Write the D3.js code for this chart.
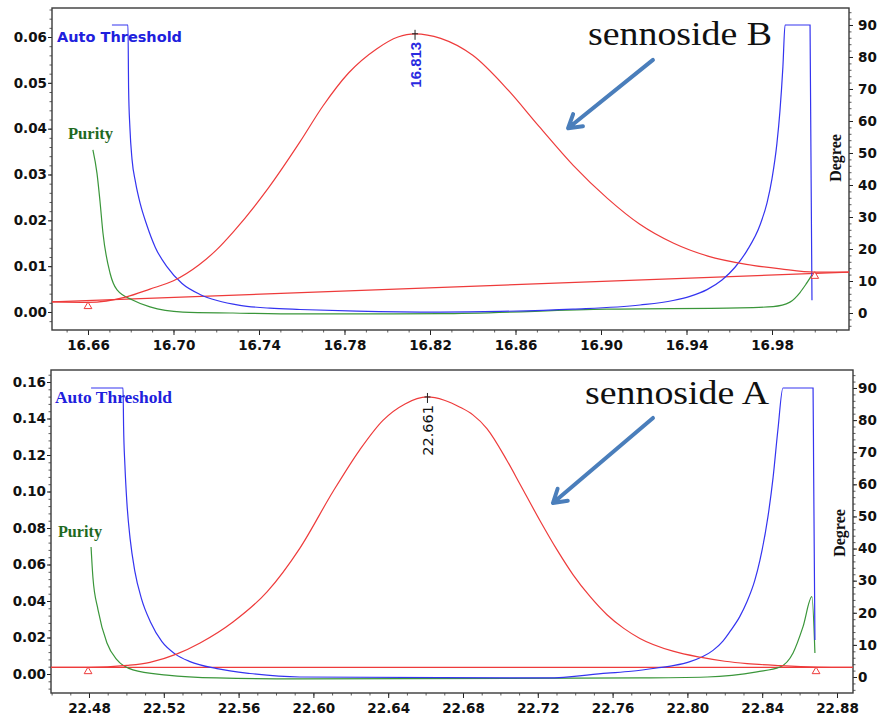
<!DOCTYPE html>
<html><head><meta charset="utf-8">
<script src="https://cdn.jsdelivr.net/npm/d3@7"></script>
<style>body{margin:0;background:#fff}svg{display:block}</style>
</head><body>
<svg id="chart" width="881" height="720"></svg>
<script>
// ===== Sennoside B (top panel) =====
const bChromTime = [16.6432,16.660,16.678,16.689,16.700,16.712,16.720,16.728,16.744,16.759,16.770,16.782,16.795,16.805,16.813,16.825,16.840,16.856,16.871,16.887,16.903,16.918,16.934,16.950,16.968,16.984,17.000,17.016];
const bChromAU   = [0.0022,0.0021,0.0033,0.0050,0.0068,0.0103,0.0135,0.0175,0.0268,0.0370,0.0450,0.0522,0.0574,0.0600,0.0607,0.0597,0.0560,0.0487,0.0405,0.0320,0.0248,0.0192,0.0150,0.0122,0.0104,0.0094,0.0087,0.0087];
const bBaseTime  = [16.6432,17.016];
const bBaseAU    = [0.0022,0.0087];
const bMarkTime  = [16.660,17.000];
const bMarkAU    = [0.0021,0.0087];
const bThrTime   = [16.6712,16.6787,16.6790,16.6796,16.6806,16.6822,16.6845,16.6875,16.6915,16.6970,16.7040,16.7124,16.7204,16.7311,16.7451,16.7592,16.7858,16.8247,16.8528,16.8869,16.9183,16.9337,16.9416,16.9496,16.9566,16.9627,16.9683,16.9744,16.9777,16.9800,16.9823,16.9837,16.9851,16.9861,16.9978,16.9987];
const bThrDeg    = [90,90,70,58,48,41,34,27.5,20.5,14.4,9.2,5.8,3.9,2.4,1.5,1.1,0.6,0.3,0.5,1.2,2.5,3.9,5.2,7.3,10.3,14.3,19.5,27.5,34.5,42,53,63,77,90,90,4];
const bPurTime   = [16.6623,16.6642,16.6656,16.6670,16.6703,16.6736,16.6811,16.6890,16.7044,16.7278,16.7592,16.8247,16.9028,16.9650,16.9805,16.9884,16.9931,16.9959,16.9987];
const bPurDeg    = [51,43.7,35,25,12.5,7.2,4,1.9,0.3,0,-0.3,-0.2,1.2,1.6,2,3.4,6.4,9,11.9];
const bPeakTime  = 16.813, bPeakAU = 0.0607, bPeakLabel = "16.813";
const bXTicks    = [16.66,16.70,16.74,16.78,16.82,16.86,16.90,16.94,16.98];
const bXLabels   = ["16.66","16.70","16.74","16.78","16.82","16.86","16.90","16.94","16.98"];
const bAUTicks   = [0,0.01,0.02,0.03,0.04,0.05,0.06];
const bAULabels  = ["0.00","0.01","0.02","0.03","0.04","0.05","0.06"];

// ===== Sennoside A (bottom panel) =====
const aChromTime = [22.4597,22.4795,22.5003,22.5126,22.5271,22.5394,22.5570,22.5752,22.5928,22.6105,22.6249,22.6372,22.6490,22.6607,22.6700,22.6784,22.6853,22.6928,22.7035,22.7105,22.7212,22.7303,22.7388,22.7479,22.7570,22.7660,22.7746,22.7923,22.8067,22.8200,22.8319,22.8495,22.8688,22.8886];
const aChromAU   = [0.0036,0.0036,0.0047,0.0064,0.0110,0.0170,0.0285,0.0450,0.0690,0.1000,0.1230,0.1390,0.1480,0.1518,0.1500,0.1462,0.1420,0.1345,0.1170,0.1040,0.0840,0.0680,0.0545,0.0425,0.0325,0.0250,0.0195,0.0125,0.0092,0.0070,0.0057,0.0046,0.0038,0.0036];
const aBaseTime  = [22.4597,22.8886];
const aBaseAU    = [0.0036,0.0036];
const aMarkTime  = [22.4795,22.8688];
const aMarkAU    = [0.0036,0.0036];
const aThrTime   = [22.4811,22.4982,22.4985,22.4992,22.5003,22.5020,22.5045,22.5080,22.5130,22.5190,22.5260,22.5340,22.5484,22.5661,22.5928,22.7249,22.7570,22.7700,22.7837,22.7930,22.8014,22.8080,22.8137,22.8190,22.8228,22.8280,22.8319,22.8360,22.8388,22.8431,22.8458,22.8484,22.8511,22.8672,22.8675,22.8682];
const aThrDeg    = [90,90,78,66,54,43,33,24.5,17,11,7.2,4.8,2.6,1.1,0,-0.3,1.2,1.8,2.8,3.6,4.8,6.3,8.3,11.2,14.2,18.8,23.5,30,36.4,50,62,77,90,90,65,11.5];
const aPurTime   = [22.4811,22.4821,22.4848,22.4896,22.4950,22.5035,22.5217,22.5484,22.5928,22.7746,22.8105,22.8372,22.8495,22.8565,22.8618,22.8666,22.8682];
const aPurDeg    = [40.5,31,21,10.6,5.3,2.2,0.6,-0.3,-0.6,-0.3,0,1.6,3.1,7.5,15.6,25,7.5];
const aPeakTime  = 22.661, aPeakAU = 0.1518, aPeakLabel = "22.661";
const aXTicks    = [22.48,22.52,22.56,22.60,22.64,22.68,22.72,22.76,22.80,22.84,22.88];
const aXLabels   = ["22.48","22.52","22.56","22.60","22.64","22.68","22.72","22.76","22.80","22.84","22.88"];
const aAUTicks   = [0,0.02,0.04,0.06,0.08,0.10,0.12,0.14,0.16];
const aAULabels  = ["0.00","0.02","0.04","0.06","0.08","0.10","0.12","0.14","0.16"];

// ===== shared =====
const degTicks  = [0,10,20,30,40,50,60,70,80,90];
const degLabels = ["0","10","20","30","40","50","60","70","80","90"];
const thresholdName = "Auto Threshold", purityName = "Purity", degreeName = "Degree";

const svg = d3.select("#chart");
const defs = svg.append("defs");
const RED = "#ee3b3b", BLUE = "#3434f0", GREEN = "#3a963a";
const TICKFONT = "'DejaVu Sans', Verdana, sans-serif";

function drawPanel(p) {
  const x  = d3.scaleLinear().domain(p.xDomain).range([p.left, p.right]);
  const yL = d3.scaleLinear().domain(p.auDomain).range([p.bottom, p.top]);
  const yR = d3.scaleLinear().domain(p.degDomain).range([p.bottom, p.top]);
  const g = svg.append("g");

  defs.append("clipPath").attr("id", "clip" + p.id).append("rect")
    .attr("x", p.left).attr("y", p.top).attr("width", p.right - p.left).attr("height", p.bottom - p.top);

  // minor ticks
  const minor = (axis, vals, tr) => {
    const m = g.append("g").attr("transform", tr)
      .call(axis.tickValues(vals).tickSize(2.5).tickSizeOuter(0).tickFormat(""));
    m.select(".domain").remove();
    m.selectAll("line").attr("stroke", "#333").attr("stroke-width", 0.8);
  };
  minor(d3.axisBottom(x), d3.range(p.xMinor[0], p.xMinor[1] + 1e-9, p.xMinor[2]), `translate(0,${p.bottom})`);
  minor(d3.axisLeft(yL), d3.range(p.auMinor[0], p.auMinor[1] + 1e-9, p.auMinor[2]), `translate(${p.left},0)`);
  minor(d3.axisRight(yR), d3.range(-4, 95.1, 2), `translate(${p.right},0)`);

  const styleAxis = (sel) => {
    sel.select(".domain").remove();
    sel.selectAll("line").attr("stroke", "#222").attr("stroke-width", 1);
    sel.selectAll("text").attr("fill", "#111").attr("font-family", TICKFONT)
      .attr("font-weight", "bold").attr("font-size", "13.5px");
  };
  g.append("g").attr("transform", `translate(0,${p.bottom})`)
    .call(d3.axisBottom(x).tickValues(p.xTicks).tickFormat((d, i) => p.xLabels[i]).tickSize(5).tickSizeOuter(0).tickPadding(5))
    .call(styleAxis);
  g.append("g").attr("transform", `translate(${p.left},0)`)
    .call(d3.axisLeft(yL).tickValues(p.auTicks).tickFormat((d, i) => p.auLabels[i]).tickSize(4).tickSizeOuter(0).tickPadding(1))
    .call(styleAxis);
  g.append("g").attr("transform", `translate(${p.right},0)`)
    .call(d3.axisRight(yR).tickValues(degTicks).tickFormat((d, i) => degLabels[i]).tickSize(4).tickSizeOuter(0).tickPadding(p.rightPad))
    .call(styleAxis);

  // frame
  g.append("rect").attr("x", p.left).attr("y", p.top)
    .attr("width", p.right - p.left).attr("height", p.bottom - p.top)
    .attr("fill", "none").attr("stroke", "#3a3a3a").attr("stroke-width", 1.4);

  const plot = g.append("g").attr("clip-path", `url(#clip${p.id})`);
  const lineAU  = d3.line().x(d => x(d[0])).y(d => yL(d[1])).curve(d3.curveMonotoneX);
  const lineDeg = d3.line().x(d => x(d[0])).y(d => yR(d[1])).curve(d3.curveMonotoneX);

  plot.append("path").datum(d3.zip(p.baseTime, p.baseAU)).attr("d", d3.line().x(d => x(d[0])).y(d => yL(d[1])))
    .attr("fill", "none").attr("stroke", RED).attr("stroke-width", 1.3);
  plot.append("path").datum(d3.zip(p.purTime, p.purDeg)).attr("d", lineDeg)
    .attr("fill", "none").attr("stroke", GREEN).attr("stroke-width", 1.2);
  plot.append("path").datum(d3.zip(p.thrTime, p.thrDeg)).attr("d", lineDeg)
    .attr("fill", "none").attr("stroke", BLUE).attr("stroke-width", 1.2);
  plot.append("path").datum(d3.zip(p.chromTime, p.chromAU)).attr("d", lineAU)
    .attr("fill", "none").attr("stroke", RED).attr("stroke-width", 1.2);

  // start / end markers
  plot.selectAll(".mark").data(d3.zip(p.markTime, p.markAU)).join("path")
    .attr("transform", d => `translate(${x(d[0])},${yL(d[1]) + 4})`)
    .attr("d", d3.symbol(d3.symbolTriangle, 26))
    .attr("fill", "#fff").attr("stroke", RED).attr("stroke-width", 1);

  // peak apex marker and label
  const px = x(p.peakTime), py = yL(p.peakAU);
  g.append("line").attr("x1", px).attr("x2", px).attr("y1", py - 4).attr("y2", py + 6).attr("stroke", "#222").attr("stroke-width", 1);
  g.append("line").attr("x1", px - 3).attr("x2", px + 3).attr("y1", py).attr("y2", py).attr("stroke", "#222").attr("stroke-width", 1);
  g.append("text").attr("transform", `translate(${px + p.peakDx},${py + 8}) rotate(-90)`)
    .attr("text-anchor", "end").attr("fill", p.peakColor)
    .attr("font-family", p.peakFont).attr("font-weight", p.peakWeight).attr("font-size", p.peakSize)
    .text(p.peakLabel);

  // series labels
  g.append("text").attr("x", p.left + p.thrLab[0]).attr("y", p.top + p.thrLab[1])
    .attr("fill", "#2020dd").attr("font-family", p.thrFont).attr("font-weight", "bold")
    .attr("font-size", p.thrSize).attr("textLength", p.thrLen).attr("lengthAdjust", "spacingAndGlyphs")
    .text(thresholdName);
  g.append("text").attr("x", p.left + p.purLab[0]).attr("y", p.top + p.purLab[1])
    .attr("fill", "#1f6a1f").attr("font-family", "'Liberation Serif', 'DejaVu Serif', serif").attr("font-weight", "bold")
    .attr("font-size", "16.5px").attr("textLength", p.purLen).attr("lengthAdjust", "spacingAndGlyphs")
    .text(purityName);
  // Degree label
  g.append("text").attr("transform", `translate(${p.right - 8},${p.degY}) rotate(-90)`)
    .attr("text-anchor", "middle").attr("fill", "#111")
    .attr("font-family", "'Liberation Serif', serif").attr("font-weight", "bold").attr("font-size", "16px")
    .text(degreeName);

  // compound name
  g.append("text").attr("x", p.nameX).attr("y", p.top + p.nameDy)
    .attr("fill", "#111").attr("font-family", "'Liberation Serif', 'Times New Roman', serif")
    .attr("font-size", "33px").attr("textLength", 184).attr("lengthAdjust", "spacingAndGlyphs")
    .text(p.name);

  // arrow (tail/tip given in data coordinates)
  const tx = x(p.arrow[0]), ty = yL(p.arrow[1]), hx = x(p.arrow[2]), hy = yL(p.arrow[3]);
  const ang = Math.atan2(ty - hy, tx - hx), L = 15, spread = 0.55;
  const b1 = [hx + L * Math.cos(ang - spread), hy + L * Math.sin(ang - spread)];
  const b2 = [hx + L * Math.cos(ang + spread), hy + L * Math.sin(ang + spread)];
  g.append("path").attr("d", `M${tx},${ty}L${hx},${hy}M${b1[0]},${b1[1]}L${hx},${hy}L${b2[0]},${b2[1]}`)
    .attr("fill", "none").attr("stroke", "#4a7ebb").attr("stroke-width", 4)
    .attr("stroke-linecap", "round").attr("stroke-linejoin", "round");
}

drawPanel({
  id: "B", left: 52, right: 849, top: 8, bottom: 330,
  xDomain: [16.64316, 17.01602], auDomain: [-0.00393, 0.06633], degDomain: [-5.31, 95.31],
  xMinor: [16.65, 17.01, 0.01], auMinor: [-0.002, 0.066, 0.002], rightPad: 5,
  xTicks: bXTicks, xLabels: bXLabels, auTicks: bAUTicks, auLabels: bAULabels,
  chromTime: bChromTime, chromAU: bChromAU, baseTime: bBaseTime, baseAU: bBaseAU,
  markTime: bMarkTime, markAU: bMarkAU, thrTime: bThrTime, thrDeg: bThrDeg,
  purTime: bPurTime, purDeg: bPurDeg,
  peakTime: bPeakTime, peakAU: bPeakAU, peakLabel: bPeakLabel, peakColor: "#2a2ae0",
  peakFont: "'Liberation Sans', Arial, sans-serif", peakWeight: "bold", peakSize: "15px", peakDx: 6,
  thrLab: [5, 34], thrFont: TICKFONT, thrSize: "14.5px", thrLen: 125,
  purLab: [16, 131], purLen: 45, degY: 158,
  name: "sennoside B", nameX: 588, nameDy: 37,
  arrow: [16.9243, 0.0550, 16.8846, 0.0401]
});

drawPanel({
  id: "A", left: 51, right: 853, top: 370, bottom: 693,
  xDomain: [22.45968, 22.88856], auDomain: [-0.01041, 0.16658], degDomain: [-4.98, 95.6],
  xMinor: [22.46, 22.88, 0.01], auMinor: [-0.008, 0.166, 0.004], rightPad: 1,
  xTicks: aXTicks, xLabels: aXLabels, auTicks: aAUTicks, auLabels: aAULabels,
  chromTime: aChromTime, chromAU: aChromAU, baseTime: aBaseTime, baseAU: aBaseAU,
  markTime: aMarkTime, markAU: aMarkAU, thrTime: aThrTime, thrDeg: aThrDeg,
  purTime: aPurTime, purDeg: aPurDeg,
  peakTime: aPeakTime, peakAU: aPeakAU, peakLabel: aPeakLabel, peakColor: "#111",
  peakFont: "'DejaVu Sans', Verdana, sans-serif", peakWeight: "normal", peakSize: "14.5px", peakDx: 6,
  thrLab: [4, 33], thrFont: "'Liberation Serif', 'DejaVu Serif', serif", thrSize: "17px", thrLen: 117,
  purLab: [7, 167], purLen: 44, degY: 533,
  name: "sennoside A", nameX: 585, nameDy: 34,
  arrow: [22.7816, 0.1403, 22.7281, 0.0937]
});
</script>
</body></html>
